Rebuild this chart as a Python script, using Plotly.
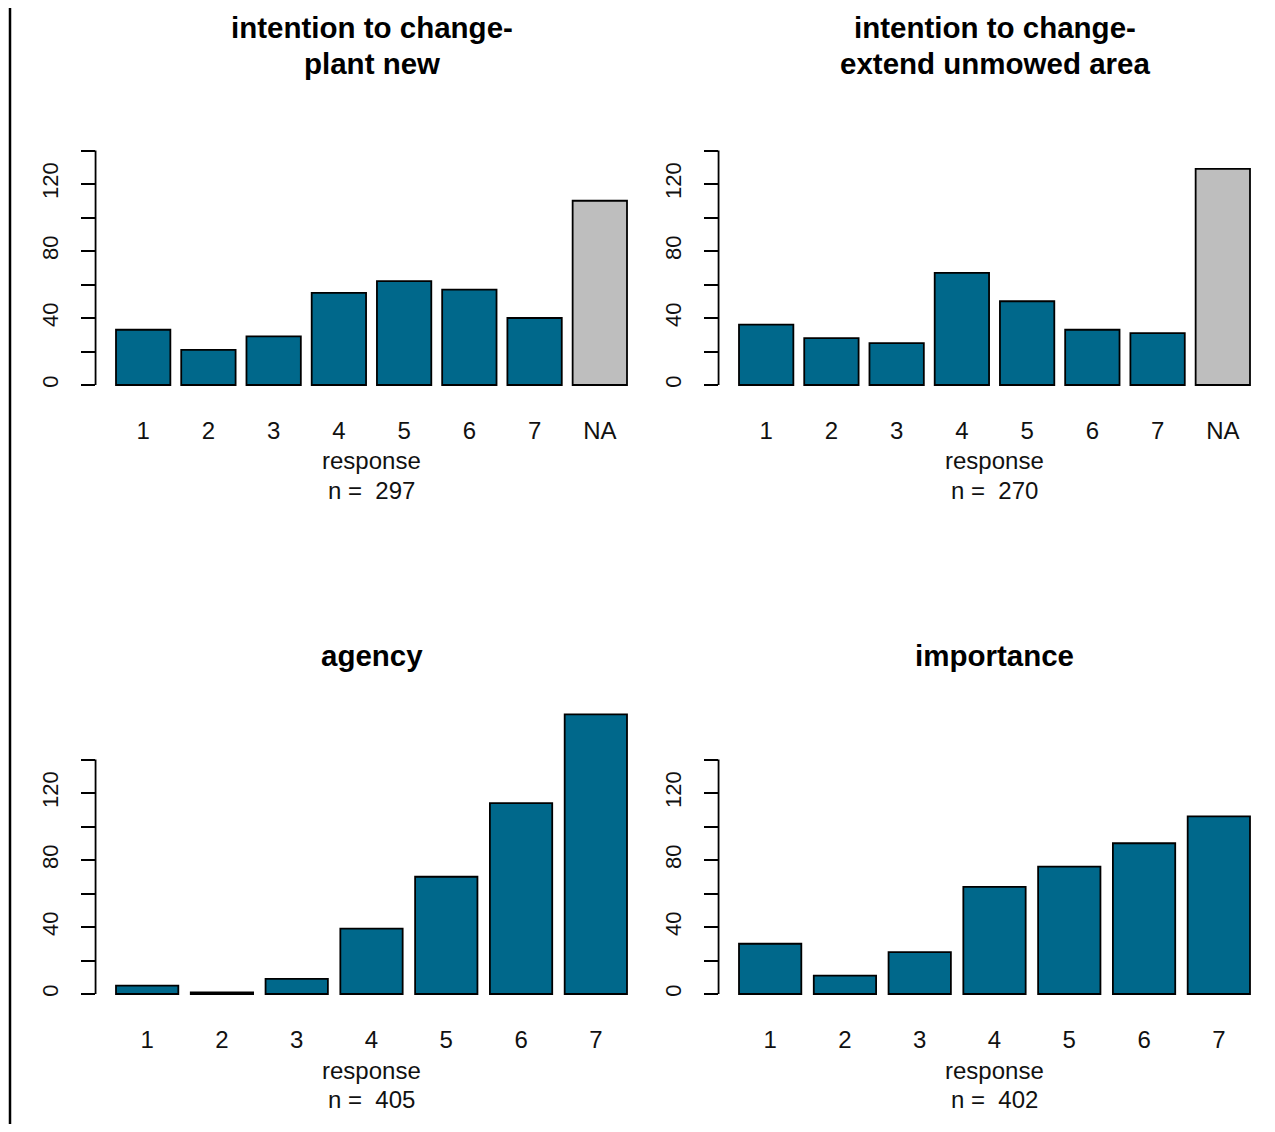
import plotly.graph_objects as go

# ---------------- data ----------------
cats_7 = ["1", "2", "3", "4", "5", "6", "7"]
cats_8 = ["1", "2", "3", "4", "5", "6", "7", "NA"]

plant_new = [33, 21, 29, 55, 62, 57, 40, 110]
extend_unmowed = [36, 28, 25, 67, 50, 33, 31, 129]
agency = [5, 1, 9, 39, 70, 114, 167]
importance = [30, 11, 25, 64, 76, 90, 106]

titles = ["intention to change-\nplant new",
          "intention to change-\nextend unmowed area",
          "agency",
          "importance"]
n_values = [297, 270, 405, 402]
x_label = "response"

y_tick_vals = [0, 20, 40, 60, 80, 100, 120, 140]
y_tick_text = ["0", "", "40", "", "80", "", "120", ""]

# ---------------- style ----------------
BAR = "#00688B"
NA_COLOR = "#BEBEBE"
FONT = "Liberation Sans, Arial, sans-serif"

W, H = 1259, 1116      # figure size (page body has an 8px margin)
OFF = 8


def fx(p):
    return (p - OFF) / W


def fy(p):
    return 1 - (p - OFF) / H


panels = [
    dict(cats=cats_8, vals=plant_new, col=0, row=0),
    dict(cats=cats_8, vals=extend_unmowed, col=1, row=0),
    dict(cats=cats_7, vals=agency, col=0, row=1),
    dict(cats=cats_7, vals=importance, col=1, row=1),
]

BAR1_LEFT = [116.0, 739.0]      # pixel of first bar's left edge per column
BAR_SPAN = 511.0                 # pixel span first-bar-left .. last-bar-right
ZERO_Y = [385.0, 994.0]          # pixel of y=0 per row
PX_PER_Y = 1.675
Y_LO, Y_HI = -5.6, 170.0

fig = go.Figure()
layout = dict(
    width=W, height=H,
    margin=dict(l=0, r=0, t=0, b=0),
    paper_bgcolor="white", plot_bgcolor="white",
    showlegend=False, bargap=1 / 6,
    font=dict(family=FONT, color="black"),
)
annotations = []
shapes = []

for i, p in enumerate(panels):
    k = "" if i == 0 else str(i + 1)
    n = len(p["cats"])
    # R barplot coordinates: bar j spans [0.2+1.2j, 1.2+1.2j]
    span_r = 1.2 * n - 0.2
    pad = 0.04 * span_r
    px_per_r = BAR_SPAN / span_r
    left_px = BAR1_LEFT[p["col"]] - pad * px_per_r
    full_right_px = left_px + (span_r + 2 * pad) * px_per_r
    right_px = min(full_right_px, OFF + W - 1)

    def r_of(pix):
        return (pix - BAR1_LEFT[p["col"]]) / px_per_r + 0.2

    u0 = (r_of(left_px) - 0.7) / 1.2
    u1 = (r_of(right_px) - 0.7) / 1.2

    z = ZERO_Y[p["row"]]
    bot_px = z - Y_LO * PX_PER_Y
    top_px = z - Y_HI * PX_PER_Y

    colors = [NA_COLOR if c == "NA" else BAR for c in p["cats"]]
    fig.add_trace(go.Bar(
        x=p["cats"], y=p["vals"],
        marker=dict(color=colors, line=dict(color="black", width=1.8)),
        xaxis="x" + k, yaxis="y" + k, hoverinfo="x+y",
    ))

    layout["xaxis" + k] = dict(
        domain=[fx(left_px), fx(right_px)], anchor="y" + k,
        type="category", range=[u0, u1],
        showgrid=False, zeroline=False, showline=False,
        ticks="outside", ticklen=15, tickcolor="rgba(0,0,0,0)",
        tickfont=dict(size=24, color="#111111"),
        fixedrange=True,
    )
    layout["yaxis" + k] = dict(
        domain=[fy(bot_px), fy(top_px)], anchor="x" + k,
        range=[Y_LO, Y_HI],
        tickvals=y_tick_vals, ticktext=y_tick_text,
        showgrid=False, zeroline=False, showline=False,
        ticks="outside", ticklen=14, tickwidth=1.8, tickcolor="black",
        tickangle=-90, tickfont=dict(size=22, color="#111111"),
        ticklabelstandoff=14,
        fixedrange=True,
    )
    # y-axis line from first to last tick
    shapes.append(dict(type="line", xref="x" + k + " domain", yref="y" + k,
                       x0=0, x1=0, y0=y_tick_vals[0], y1=y_tick_vals[-1],
                       line=dict(color="black", width=1.8)))

    cx = fx((left_px + full_right_px) / 2)
    # title
    lines = titles[i].split("\n")
    row_off = 609.0 * p["row"]
    if len(lines) == 2:
        ys = [28 + row_off, 63.5 + row_off]
    else:
        ys = [46.5 + row_off]
    for t, yy in zip(lines, ys):
        annotations.append(dict(text="<b>" + t + "</b>", x=cx, y=fy(yy),
                                xref="paper", yref="paper", showarrow=False,
                                xanchor="center", yanchor="middle",
                                font=dict(size=29.5, color="black")))
    # x label and n
    annotations.append(dict(text=x_label, x=cx, y=fy(461 + row_off),
                            xref="paper", yref="paper", showarrow=False,
                            xanchor="center", yanchor="middle",
                            font=dict(size=24, color="#111111")))
    annotations.append(dict(text="n =  " + str(n_values[i]), x=cx, y=fy(490 + row_off),
                            xref="paper", yref="paper", showarrow=False,
                            xanchor="center", yanchor="middle",
                            font=dict(size=24, color="#111111")))

# left border line of the image
shapes.append(dict(type="line", xref="paper", yref="paper",
                   x0=fx(10), x1=fx(10), y0=-0.01, y1=1.01,
                   line=dict(color="black", width=2.5)))

layout["annotations"] = annotations
layout["shapes"] = shapes
fig.update_layout(**layout)
fig.write_html("out.html")
